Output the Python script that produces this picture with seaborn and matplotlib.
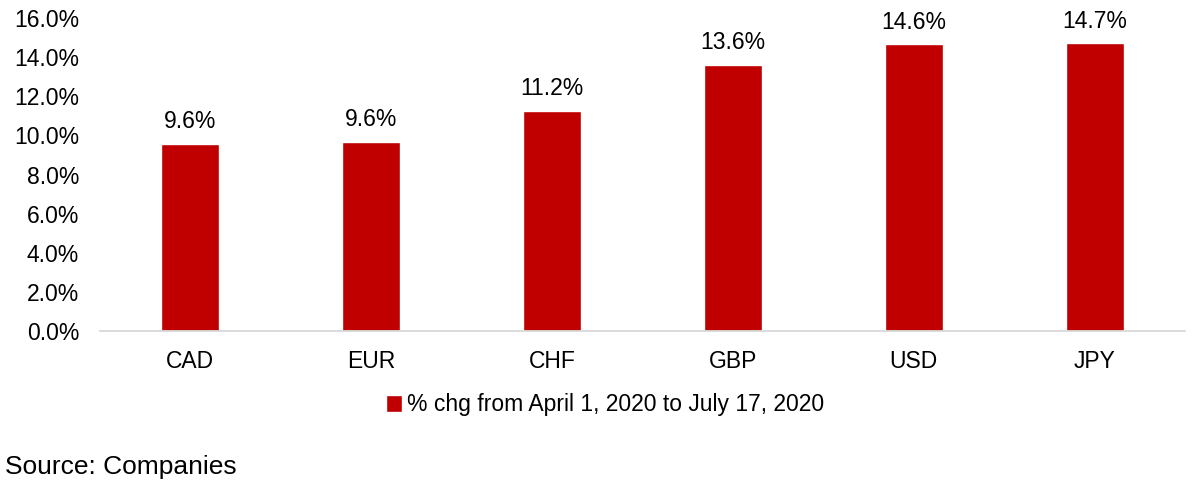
import pandas as pd
import matplotlib
matplotlib.use("Agg")
import matplotlib.pyplot as plt
import seaborn as sns
from matplotlib.ticker import FuncFormatter
from matplotlib.patches import Patch

currencies = ["CAD", "EUR", "CHF", "GBP", "USD", "JPY"]
pct_change = [9.55, 9.65, 11.25, 13.6, 14.65, 14.7]
bar_labels = ["9.6%", "9.6%", "11.2%", "13.6%", "14.6%", "14.7%"]
series_name = "% chg from April 1, 2020 to July 17, 2020"

df = pd.DataFrame({"currency": currencies, "pct": pct_change})

sns.set_style("white")
plt.rcParams["font.family"] = ["Liberation Sans", "DejaVu Sans"]
plt.rcParams["text.color"] = "black"
plt.rcParams["xtick.color"] = "black"
plt.rcParams["ytick.color"] = "black"

fig = plt.figure(figsize=(12.03, 4.87), dpi=100)
ax = fig.add_axes([100 / 1203, 1 - 331 / 487, 1085 / 1203, 313 / 487])

sns.barplot(data=df, x="currency", y="pct", color="#C00000", saturation=1,
            width=0.32, ax=ax)

for i, lab in enumerate(bar_labels):
    ax.text(i, pct_change[i] + 0.55, lab, ha="center", va="bottom", fontsize=16.5, color="black")

ax.set_ylim(0, 16)
ax.set_yticks([0, 2, 4, 6, 8, 10, 12, 14, 16])
ax.yaxis.set_major_formatter(FuncFormatter(lambda v, p: f"{v:.1f}%"))
ax.set_xlim(-0.5, 5.5)
ax.set_xlabel("")
ax.set_ylabel("")
ax.tick_params(axis="y", length=0, pad=15, labelsize=16.5)
ax.tick_params(axis="x", length=0, pad=14, labelsize=16.5)

for s in ["top", "right", "left"]:
    ax.spines[s].set_visible(False)
ax.spines["bottom"].set_color("#D9D9D9")
ax.spines["bottom"].set_linewidth(1.3)

handle = Patch(facecolor="#C00000", label=series_name)
fig.legend(handles=[handle], loc="center", bbox_to_anchor=(605 / 1203, 1 - 405 / 487),
           frameon=False, fontsize=16.5, handlelength=0.7, handleheight=0.7,
           handletextpad=0.25)

fig.text(5 / 1203, 1 - 467 / 487, "Source: Companies", fontsize=19, va="center", ha="left")

fig.savefig("out.png", dpi=100)
